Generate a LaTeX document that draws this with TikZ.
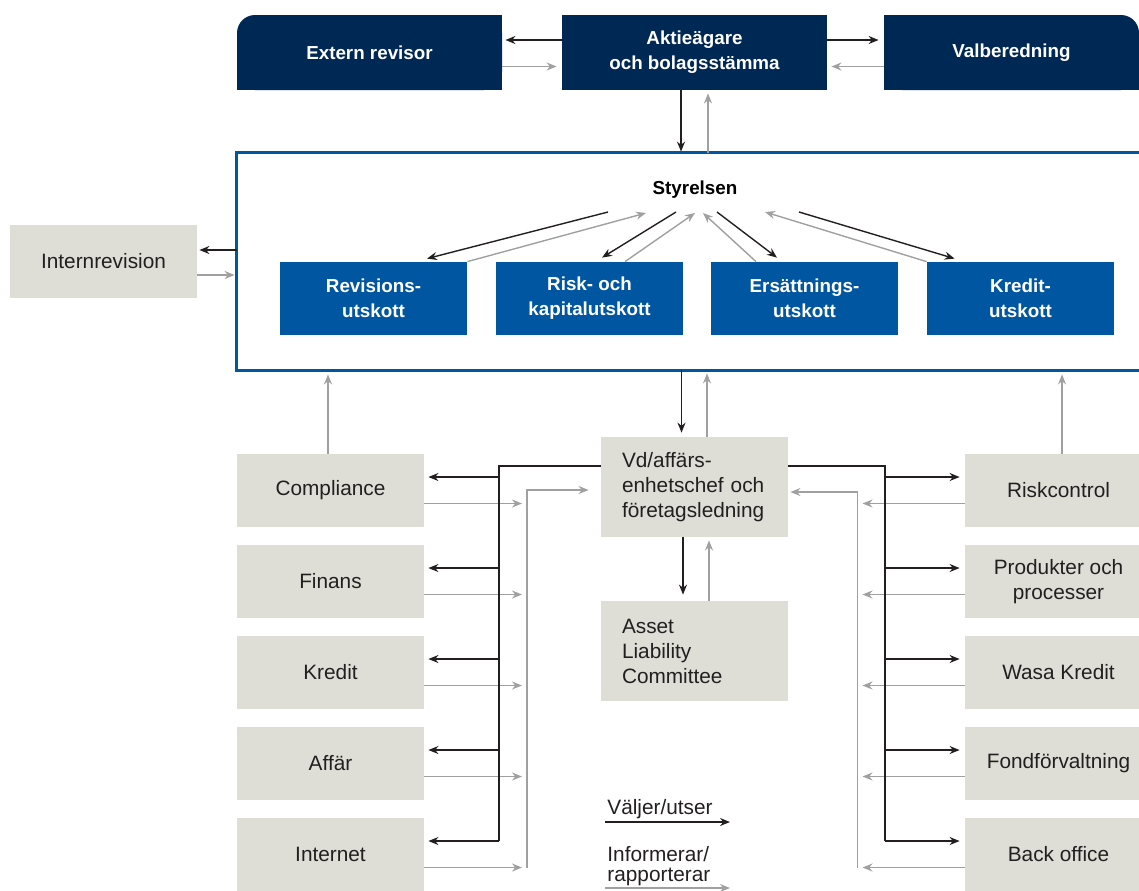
\documentclass[tikz,border=0pt]{standalone}
\usepackage{fontspec}
\setmainfont{Liberation Sans}
\usetikzlibrary{arrows.meta,calc,backgrounds}
\definecolor{navy}{RGB}{0,40,85}
\definecolor{midblue}{RGB}{0,86,160}
\definecolor{boxgray}{RGB}{222,222,214}
\definecolor{inkblack}{RGB}{35,31,32}
\definecolor{linegray}{RGB}{160,160,160}
\newcommand{\regfont}{\fontsize{10.4pt}{12.5pt}\selectfont}
\newcommand{\boldfont}{\fontsize{9.4pt}{12.5pt}\selectfont\bfseries}
\begin{document}
\begin{tikzpicture}[x=0.5pt,y=-0.5pt,>={Stealth[length=5pt,width=4pt]},
	topbox/.style={minimum width=132.5pt,minimum height=37.5pt,inner sep=0pt,text=white,font=\boldfont,align=center},
	cttbox/.style={fill=midblue,minimum width=93.5pt,minimum height=36.5pt,inner sep=0pt,text=white,font=\boldfont,align=center},
	unitbox/.style={fill=boxgray,minimum width=93.5pt,minimum height=36.5pt,inner sep=0pt,text=inkblack,font=\regfont,align=center},
	mgmtbox/.style={fill=boxgray,text width=72.5pt,inner xsep=10.5pt,inner ysep=0pt,minimum height=50pt,text=inkblack,font=\regfont,align=left},
	sel/.style={->,draw=inkblack,line width=0.7pt},
	inf/.style={->,draw=linegray,line width=0.7pt},
	bus/.style={draw=inkblack,line width=0.7pt},
	boardline/.style={draw=midblue,line width=1.35pt}]
	\path[use as bounding box,clip] (0,0) rectangle (1139,890);
	% top row
	\node[topbox,fill=navy,rounded corners=9pt] (ext) at (369.5,52.5) {Extern revisor};
	\node[topbox,fill=navy] (akt) at (694.5,52.5) {Aktieägare\\och bolagsstämma};
	\node[topbox,fill=navy,rounded corners=9pt,minimum width=127.5pt] (valb) at (1011.5,52.5) {Valberedning};
	\begin{scope}[on background layer]
		\fill[navy] (ext.north) rectangle (ext.south east);
		\fill[navy] (ext.west) rectangle (ext.south east);
		\fill[navy] (valb.north west) rectangle (valb.south);
		\fill[navy] (valb.west) rectangle (valb.south east);
	\end{scope}
	\draw[sel,shorten >=1.5pt] ([yshift=6.25pt]akt.west) -- ([yshift=6.25pt]ext.east);
	\draw[inf,shorten >=2.5pt] ([yshift=-7pt]ext.east) -- ([yshift=-7pt]akt.west);
	\draw[sel,shorten >=2.5pt] ([yshift=6.25pt]akt.east) -- ([yshift=6.25pt]valb.west);
	\draw[inf,shorten >=2pt] ([yshift=-7pt]valb.west) -- ([yshift=-7pt]akt.east);
	% board
	\node[minimum width=452pt,minimum height=108.5pt,inner sep=0pt] (board) at (689,261.5) {};
	\draw[boardline] (board.north east) -- (board.north west) -- (board.south west) -- (board.south east);
	\draw[sel,shorten >=0.5pt] ([xshift=-6.75pt]akt.south) -- ([xshift=-6.75pt]akt.south |- board.north);
	\draw[inf,shorten >=1.5pt] ([xshift=6.75pt]akt.south |- board.north) -- ([xshift=6.75pt]akt.south);
	\node[font=\boldfont,text=black] (styr) at (695,190) {Styrelsen};
	\node[cttbox] (rev) at (373.5,298.5) {Revisions-\\utskott};
	\node[cttbox] (risk) at (589.5,298.5) {Risk- och\\kapitalutskott};
	\node[cttbox] (ers) at (804.5,298.5) {Ersättnings-\\utskott};
	\node[cttbox] (kred) at (1020.5,298.5) {Kredit-\\utskott};
	\draw[sel] ($(styr)+(-87,22)$) -- ($(rev.north)+(53.5,-3)$);
	\draw[inf] (rev.north east) -- ($(styr)+(-49,23)$);
	\draw[sel] ($(styr)+(-19,22)$) -- ($(risk.north)+(12.5,-4)$);
	\draw[inf] ($(risk.north)+(35.5,0)$) -- ($(styr)+(0,23)$);
	\draw[sel] ($(styr)+(22,22)$) -- ($(ers.north)+(-27.5,-4)$);
	\draw[inf] ($(ers.north)+(-48.5,0)$) -- ($(styr)+(8,23)$);
	\draw[sel] ($(styr)+(104,22)$) -- ($(kred.north west)+(28,-3)$);
	\draw[inf] (kred.north west) -- ($(styr)+(70,22)$);
	% internal audit
	\node[unitbox] (intrev) at (103.5,261.5) {Internrevision};
	\draw[sel,shorten >=1pt] ([yshift=5.75pt]board.west) -- ([yshift=5.75pt]intrev.east);
	\draw[inf,shorten >=1pt] ([yshift=-6.75pt]intrev.east) -- ([yshift=-6.75pt]board.west);
	% management
	\node[mgmtbox] (vd) at (694.5,487) {Vd/affärs-\\enhetschef och\\företagsledning};
	\node[mgmtbox] (alc) at (694.5,651) {Asset\\Liability\\Committee};
	\draw[sel,shorten >=2pt] ([xshift=-6.5pt]vd.north |- board.south) -- ([xshift=-6.5pt]vd.north);
	\draw[inf,shorten >=1.5pt] ([xshift=6.25pt]vd.north) -- ([xshift=6.25pt]vd.north |- board.south);
	\draw[sel,shorten >=3pt] ([xshift=-5.75pt]vd.south) -- ([xshift=-5.75pt]alc.north);
	\draw[inf,shorten >=1.5pt] ([xshift=7.25pt]alc.north) -- ([xshift=7.25pt]vd.south);
	% units
	\node[unitbox] (comp) at (330.5,490.5) {Compliance};
	\node[unitbox] (fin) at (330.5,581.5) {Finans};
	\node[unitbox] (kre) at (330.5,672.5) {Kredit};
	\node[unitbox] (aff) at (330.5,763.5) {Affär};
	\node[unitbox] (inet) at (330.5,854.5) {Internet};
	\node[unitbox] (risc) at (1058.5,490.5) {Riskcontrol};
	\node[unitbox] (prod) at (1058.5,581.5) {Produkter och\\processer};
	\node[unitbox] (wasa) at (1058.5,672.5) {Wasa Kredit};
	\node[unitbox] (fond) at (1058.5,763.5) {Fondförvaltning};
	\node[unitbox] (boff) at (1058.5,854.5) {Back office};
	\draw[inf,shorten >=2pt] ([xshift=-1.25pt]comp.north) -- ([xshift=-1.25pt]comp.north |- board.south);
	\draw[inf,shorten >=2pt] ([xshift=1.75pt]risc.north) -- ([xshift=1.75pt]risc.north |- board.south);
	\coordinate (lbus) at (499,0);
	\coordinate (lret) at (527,0);
	\coordinate (rbus) at (885,0);
	\coordinate (rret) at (857.5,0);
	\foreach \u in {comp,fin,kre,aff,inet}{
		\draw[sel,shorten >=2pt] ($(\u.east -| lbus)+(0,-13.5)$) -- ($(\u.east)+(0,-13.5)$);
		\draw[inf,shorten >=2.5pt] ($(\u.east)+(0,13)$) -- ($(\u.east -| lret)+(0,13)$);
	}
	\draw[bus] ($(vd.west)+(0,-21)$) -| ($(inet.east -| lbus)+(0,-13.5)$);
	\draw[inf,shorten >=6pt] ($(inet.east -| lret)+(0,13)$) |- ($(vd.west)+(0,3)$);
	\foreach \u in {risc,prod,wasa,fond,boff}{
		\draw[sel,shorten >=2.5pt] ($(\u.west -| rbus)+(0,-13.5)$) -- ($(\u.west)+(0,-13.5)$);
		\draw[inf,shorten >=2.5pt] ($(\u.west)+(0,13)$) -- ($(\u.west -| rret)+(0,13)$);
	}
	\draw[bus] ($(vd.east)+(0,-21)$) -| ($(boff.west -| rbus)+(0,-13.5)$);
	\draw[inf,shorten >=1pt] ($(boff.west -| rret)+(0,13)$) |- ($(vd.east)+(0,5)$);
	% legend
	\node[font=\regfont,text=inkblack,anchor=base west,inner sep=0pt] (seltxt) at (607,814) {Väljer/utser};
	\coordinate (selA) at (605,822);
	\coordinate (selB) at (730,822);
	\draw[sel] (selA) -- (selB);
	\node[font=\fontsize{10.4pt}{10pt}\selectfont,text=inkblack,anchor=north west,inner sep=0pt,align=left] (inftxt) at (607,846) {Informerar/\\rapporterar};
	\coordinate (infA) at (605,888);
	\coordinate (infB) at (730,888);
	\draw[inf] (infA) -- (infB);
\end{tikzpicture}
\end{document}
